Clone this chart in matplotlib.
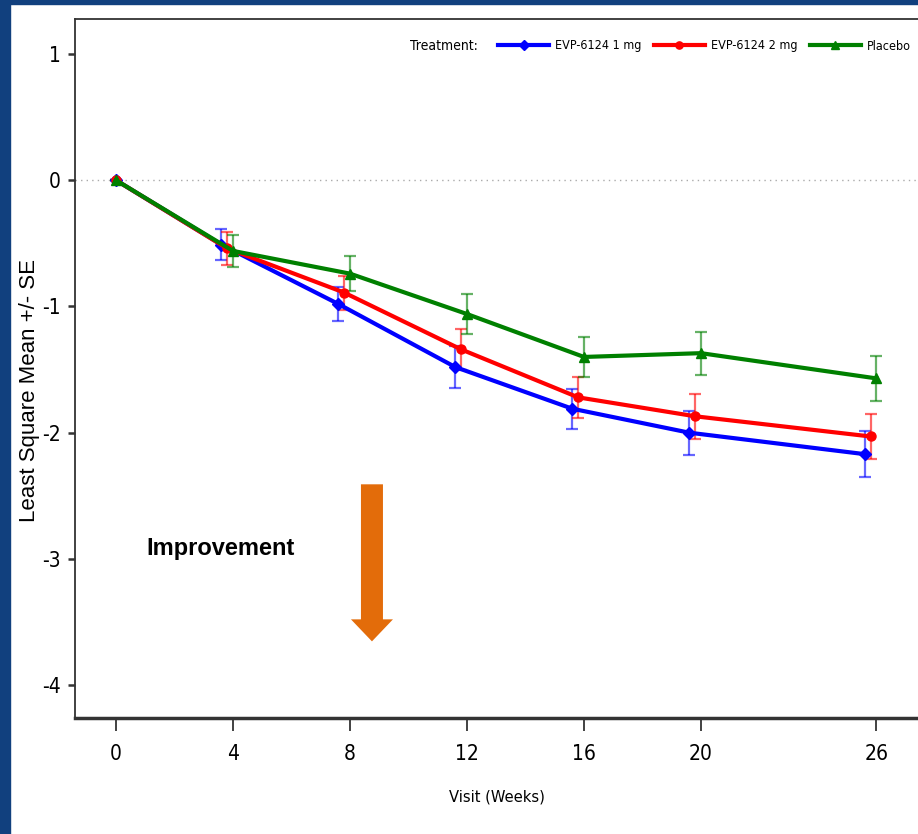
import matplotlib
matplotlib.use("Agg")
import matplotlib.pyplot as plt
from matplotlib.patches import Rectangle, FancyArrow
from matplotlib import font_manager
from matplotlib.font_manager import FontProperties

weeks = [0, 4, 8, 12, 16, 20, 26]

mean_1mg = [0, -0.51, -0.98, -1.48, -1.81, -2.00, -2.17]
se_1mg = [0, 0.125, 0.135, 0.165, 0.16, 0.175, 0.18]
mean_2mg = [0, -0.54, -0.89, -1.34, -1.72, -1.87, -2.03]
se_2mg = [0, 0.13, 0.135, 0.16, 0.165, 0.18, 0.18]
mean_pbo = [0, -0.56, -0.74, -1.06, -1.40, -1.37, -1.57]
se_pbo = [0, 0.125, 0.14, 0.16, 0.16, 0.17, 0.18]

labels = ["EVP-6124 1 mg", "EVP-6124 2 mg", "Placebo"]
y_ticks = [1, 0, -1, -2, -3, -4]

# look for a narrow / condensed regular font file
narrow_file = None
for f in font_manager.fontManager.ttflist:
    fn = f.fname.lower()
    if ("narrow" in fn or "condensed" in fn) and "bold" not in fn and "italic" not in fn \
            and "oblique" not in fn and "mono" not in fn and "serif" not in fn:
        if narrow_file is None or "liberationsansnarrow" in fn.replace("-", ""):
            narrow_file = f.fname

if narrow_file:
    def nfont(size):
        return FontProperties(fname=narrow_file, size=size)
    tick_size, leg_size, tr_size, xl_size = 15, 9, 10, 11.8
    hlen, cspace = 4.1, 0.95
else:
    def nfont(size):
        return FontProperties(family="Liberation Sans", size=size)
    tick_size, leg_size, tr_size, xl_size = 12.5, 8, 8.5, 10
    hlen, cspace = 4.2, 0.9

fig = plt.figure(figsize=(9.18, 8.34), dpi=100)
fig.patch.set_facecolor("white")

# dark blue slide border (left and top)
fig.patches.append(Rectangle((0, 0), 10 / 918, 1, transform=fig.transFigure,
                             color="#11407E", zorder=0))
fig.patches.append(Rectangle((0, 1 - 4 / 834), 1, 4 / 834, transform=fig.transFigure,
                             color="#11407E", zorder=0))

ax = fig.add_axes([75 / 918, 1 - 718 / 834, 1 - 75 / 918, (718 - 19) / 834])

series = [
    (mean_1mg, se_1mg, "#0000FF", "D", 6, -0.4),
    (mean_2mg, se_2mg, "#FF0000", "o", 6.5, -0.2),
    (mean_pbo, se_pbo, "#008000", "^", 6.5, 0.0),
]

ax.axhline(0, color="#AAAAAA", lw=1, ls=(0, (1, 3)), zorder=1)

handles = []
for (m, se, col, mk, ms, dx), lab in zip(series, labels):
    xs = [w + dx if w > 0 else w for w in weeks]
    ax.errorbar(xs, m, yerr=se, fmt="none", ecolor=col, alpha=0.6,
                elinewidth=1.6, capsize=4.5, capthick=1.6, zorder=2)
    h, = ax.plot(xs, m, color=col, lw=3, marker=mk, ms=ms, zorder=3, label=lab)
    handles.append(h)

ax.set_xlim(-1.4, 27.42)
ax.set_ylim(-4.26, 1.277)
ax.set_xticks(weeks)
ax.set_yticks(y_ticks)
ax.set_xticklabels([str(w) for w in weeks], fontproperties=nfont(tick_size))
ax.set_yticklabels([str(v) for v in y_ticks], fontproperties=nfont(tick_size))
ax.tick_params(axis="x", length=9, width=1.3, color="#333333", pad=10)
ax.tick_params(axis="y", length=5, width=1.8, color="#333333", pad=5)

ax.spines["right"].set_visible(False)
for s in ["top", "left"]:
    ax.spines[s].set_color("#333333")
    ax.spines[s].set_linewidth(1.3)
ax.spines["bottom"].set_color("#333333")
ax.spines["bottom"].set_linewidth(2.5)

ax.set_xlabel("Visit (Weeks)", fontproperties=nfont(xl_size))
ax.xaxis.set_label_coords(0.5, -0.102)
ax.set_ylabel("Least Square Mean +/- SE", family="Liberation Sans", fontsize=16)
ax.yaxis.set_label_coords(-0.042, 0.469)

# legend
fig.text(410 / 918, 1 - 46 / 834, "Treatment:", fontproperties=nfont(tr_size),
         ha="left", va="center")
fig.legend(handles=handles, loc="center left", bbox_to_anchor=(498 / 918, 1 - 46 / 834),
           ncol=3, frameon=False, prop=nfont(leg_size),
           handlelength=hlen, handletextpad=0.5, columnspacing=cspace,
           borderpad=0, borderaxespad=0, markerscale=0.8)

# annotation
ax.text((146 - 116) / 29.25, (180 - 548) / 126.2, "Improvement",
        family="Liberation Sans", fontweight="bold", fontsize=17, ha="left", va="center")
ax.add_patch(FancyArrow((372 - 116) / 29.25, (180 - 484) / 126.2, 0, -(641 - 484) / 126.2,
                        width=22 / 29.25, head_width=42 / 29.25,
                        head_length=22 / 126.2, length_includes_head=True,
                        color="#E36C0A", lw=0, zorder=4))

fig.savefig("out.png", dpi=100)
